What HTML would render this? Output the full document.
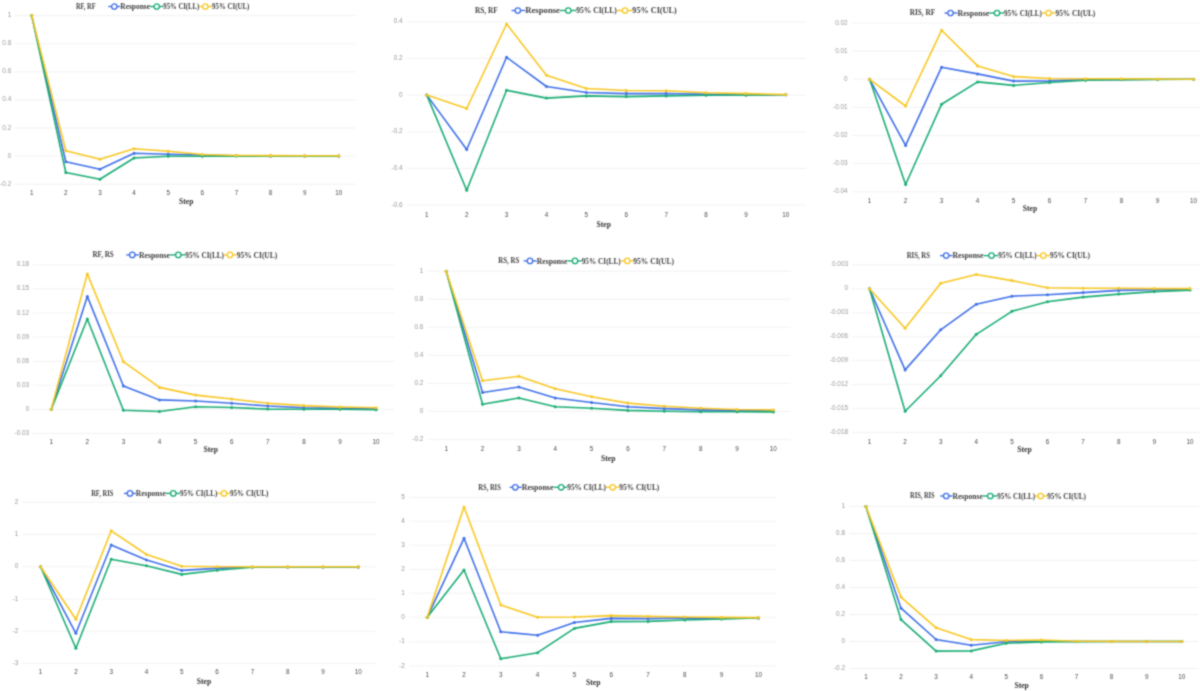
<!DOCTYPE html>
<html><head><meta charset="utf-8"><title>Impulse responses</title>
<style>
html,body{margin:0;padding:0;background:#fff;}
body{width:1200px;height:691px;overflow:hidden;}
svg{display:block;}
.tk{font-family:"Liberation Sans",sans-serif;font-size:6.4px;fill:#999999;}
.xt{font-family:"Liberation Sans",sans-serif;font-size:6.3px;fill:#4a4a4a;}
.st{font-family:"Liberation Serif",serif;font-weight:bold;font-size:7.6px;fill:#333;}
.tt{font-family:"Liberation Serif",serif;font-weight:bold;font-size:7.6px;fill:#404040;}
.lg{font-family:"Liberation Serif",serif;font-weight:bold;font-size:7.6px;fill:#404040;}
</style></head><body>
<svg width="1200" height="691" viewBox="0 0 1200 691">
<defs><filter id="bl" x="0" y="0" width="1200" height="691" filterUnits="userSpaceOnUse" color-interpolation-filters="sRGB"><feConvolveMatrix order="3" kernelMatrix="1 2 1 2 8 2 1 2 1" divisor="20" edgeMode="duplicate"/></filter></defs>
<rect width="1200" height="691" fill="#fff"/>
<g filter="url(#bl)">

<g>
<line x1="14.7" y1="15.6" x2="355.8" y2="15.6" stroke="#efefef" stroke-width="0.8"/>
<line x1="14.7" y1="43.7" x2="355.8" y2="43.7" stroke="#efefef" stroke-width="0.8"/>
<line x1="14.7" y1="71.8" x2="355.8" y2="71.8" stroke="#efefef" stroke-width="0.8"/>
<line x1="14.7" y1="99.9" x2="355.8" y2="99.9" stroke="#efefef" stroke-width="0.8"/>
<line x1="14.7" y1="128" x2="355.8" y2="128" stroke="#efefef" stroke-width="0.8"/>
<line x1="14.7" y1="156.1" x2="355.8" y2="156.1" stroke="#efefef" stroke-width="0.8"/>
<line x1="14.7" y1="184.2" x2="355.8" y2="184.2" stroke="#efefef" stroke-width="0.8"/>
<text class="tk" x="11.2" y="17.1" text-anchor="end">1</text>
<text class="tk" x="11.2" y="45.2" text-anchor="end">0.8</text>
<text class="tk" x="11.2" y="73.3" text-anchor="end">0.6</text>
<text class="tk" x="11.2" y="101.4" text-anchor="end">0.4</text>
<text class="tk" x="11.2" y="129.5" text-anchor="end">0.2</text>
<text class="tk" x="11.2" y="157.6" text-anchor="end">0</text>
<text class="tk" x="11.2" y="185.7" text-anchor="end">-0.2</text>
<text class="xt" x="31.7" y="194.7" text-anchor="middle">1</text>
<text class="xt" x="65.82" y="194.7" text-anchor="middle">2</text>
<text class="xt" x="99.94" y="194.7" text-anchor="middle">3</text>
<text class="xt" x="134.06" y="194.7" text-anchor="middle">4</text>
<text class="xt" x="168.18" y="194.7" text-anchor="middle">5</text>
<text class="xt" x="202.3" y="194.7" text-anchor="middle">6</text>
<text class="xt" x="236.42" y="194.7" text-anchor="middle">7</text>
<text class="xt" x="270.54" y="194.7" text-anchor="middle">8</text>
<text class="xt" x="304.66" y="194.7" text-anchor="middle">9</text>
<text class="xt" x="338.78" y="194.7" text-anchor="middle">10</text>
<text class="st" x="186.3" y="204.1" text-anchor="middle">Step</text>
<text class="tt" x="75.9" y="8.9" textLength="19.7" lengthAdjust="spacingAndGlyphs">RF, RF</text>
<line x1="108.3" y1="6.5" x2="120.3" y2="6.5" stroke="#4070e8" stroke-width="1.4"/>
<circle cx="114.3" cy="6.5" r="2.7" fill="#fff" stroke="#4070e8" stroke-width="1.3"/>
<text class="lg" x="120.3" y="9.2" textLength="29.7" lengthAdjust="spacingAndGlyphs">Response</text>
<line x1="150" y1="6.5" x2="163.3" y2="6.5" stroke="#1aad74" stroke-width="1.4"/>
<circle cx="156.7" cy="6.5" r="2.7" fill="#fff" stroke="#1aad74" stroke-width="1.3"/>
<text class="lg" x="163.3" y="9.2" textLength="36" lengthAdjust="spacingAndGlyphs">95% CI(LL)</text>
<line x1="199.3" y1="6.5" x2="212" y2="6.5" stroke="#f8c722" stroke-width="1.4"/>
<circle cx="205.3" cy="6.5" r="2.7" fill="#fff" stroke="#f8c722" stroke-width="1.3"/>
<text class="lg" x="212" y="9.2" textLength="37.3" lengthAdjust="spacingAndGlyphs">95% CI(UL)</text>
<polyline points="31.7,15.6 65.82,161.7 99.94,169.2 134.06,153.3 168.18,154.2 202.3,155 236.42,155.8 270.54,155.9 304.66,156 338.78,156" fill="none" stroke="#4070e8" stroke-width="1.6" stroke-linejoin="round"/>
<circle cx="31.7" cy="15.6" r="1.5" fill="#4070e8"/>
<circle cx="65.82" cy="161.7" r="1.5" fill="#4070e8"/>
<circle cx="99.94" cy="169.2" r="1.5" fill="#4070e8"/>
<circle cx="134.06" cy="153.3" r="1.5" fill="#4070e8"/>
<circle cx="168.18" cy="154.2" r="1.5" fill="#4070e8"/>
<circle cx="202.3" cy="155" r="1.5" fill="#4070e8"/>
<circle cx="236.42" cy="155.8" r="1.5" fill="#4070e8"/>
<circle cx="270.54" cy="155.9" r="1.5" fill="#4070e8"/>
<circle cx="304.66" cy="156" r="1.5" fill="#4070e8"/>
<circle cx="338.78" cy="156" r="1.5" fill="#4070e8"/>
<polyline points="31.7,15.6 65.82,172.5 99.94,179.2 134.06,158 168.18,156.3 202.3,156.2 236.42,156.1 270.54,156.1 304.66,156.1 338.78,156.1" fill="none" stroke="#1aad74" stroke-width="1.6" stroke-linejoin="round"/>
<circle cx="31.7" cy="15.6" r="1.5" fill="#1aad74"/>
<circle cx="65.82" cy="172.5" r="1.5" fill="#1aad74"/>
<circle cx="99.94" cy="179.2" r="1.5" fill="#1aad74"/>
<circle cx="134.06" cy="158" r="1.5" fill="#1aad74"/>
<circle cx="168.18" cy="156.3" r="1.5" fill="#1aad74"/>
<circle cx="202.3" cy="156.2" r="1.5" fill="#1aad74"/>
<circle cx="236.42" cy="156.1" r="1.5" fill="#1aad74"/>
<circle cx="270.54" cy="156.1" r="1.5" fill="#1aad74"/>
<circle cx="304.66" cy="156.1" r="1.5" fill="#1aad74"/>
<circle cx="338.78" cy="156.1" r="1.5" fill="#1aad74"/>
<polyline points="31.7,15.6 65.82,150.8 99.94,159.2 134.06,148.8 168.18,151.3 202.3,154.5 236.42,155.5 270.54,155.6 304.66,155.7 338.78,155.8" fill="none" stroke="#f8c722" stroke-width="1.6" stroke-linejoin="round"/>
<circle cx="31.7" cy="15.6" r="1.5" fill="#f8c722"/>
<circle cx="65.82" cy="150.8" r="1.5" fill="#f8c722"/>
<circle cx="99.94" cy="159.2" r="1.5" fill="#f8c722"/>
<circle cx="134.06" cy="148.8" r="1.5" fill="#f8c722"/>
<circle cx="168.18" cy="151.3" r="1.5" fill="#f8c722"/>
<circle cx="202.3" cy="154.5" r="1.5" fill="#f8c722"/>
<circle cx="236.42" cy="155.5" r="1.5" fill="#f8c722"/>
<circle cx="270.54" cy="155.6" r="1.5" fill="#f8c722"/>
<circle cx="304.66" cy="155.7" r="1.5" fill="#f8c722"/>
<circle cx="338.78" cy="155.8" r="1.5" fill="#f8c722"/>
</g>
<g>
<line x1="406.9" y1="21.7" x2="806.3" y2="21.7" stroke="#efefef" stroke-width="0.8"/>
<line x1="406.9" y1="58.4" x2="806.3" y2="58.4" stroke="#efefef" stroke-width="0.8"/>
<line x1="406.9" y1="95.1" x2="806.3" y2="95.1" stroke="#efefef" stroke-width="0.8"/>
<line x1="406.9" y1="131.8" x2="806.3" y2="131.8" stroke="#efefef" stroke-width="0.8"/>
<line x1="406.9" y1="168.5" x2="806.3" y2="168.5" stroke="#efefef" stroke-width="0.8"/>
<line x1="406.9" y1="205.1" x2="806.3" y2="205.1" stroke="#efefef" stroke-width="0.8"/>
<text class="tk" x="402.6" y="23.2" text-anchor="end">0.4</text>
<text class="tk" x="402.6" y="59.9" text-anchor="end">0.2</text>
<text class="tk" x="402.6" y="96.6" text-anchor="end">0</text>
<text class="tk" x="402.6" y="133.3" text-anchor="end">-0.2</text>
<text class="tk" x="402.6" y="170" text-anchor="end">-0.4</text>
<text class="tk" x="402.6" y="206.6" text-anchor="end">-0.6</text>
<text class="xt" x="426.8" y="216.7" text-anchor="middle">1</text>
<text class="xt" x="466.69" y="216.7" text-anchor="middle">2</text>
<text class="xt" x="506.58" y="216.7" text-anchor="middle">3</text>
<text class="xt" x="546.47" y="216.7" text-anchor="middle">4</text>
<text class="xt" x="586.36" y="216.7" text-anchor="middle">5</text>
<text class="xt" x="626.25" y="216.7" text-anchor="middle">6</text>
<text class="xt" x="666.14" y="216.7" text-anchor="middle">7</text>
<text class="xt" x="706.03" y="216.7" text-anchor="middle">8</text>
<text class="xt" x="745.92" y="216.7" text-anchor="middle">9</text>
<text class="xt" x="785.81" y="216.7" text-anchor="middle">10</text>
<text class="st" x="603.8" y="226.8" text-anchor="middle">Step</text>
<text class="tt" x="475.1" y="12.9" textLength="22.6" lengthAdjust="spacingAndGlyphs">RS, RF</text>
<line x1="511.5" y1="10.5" x2="525.2" y2="10.5" stroke="#4070e8" stroke-width="1.4"/>
<circle cx="517.8" cy="10.5" r="2.7" fill="#fff" stroke="#4070e8" stroke-width="1.3"/>
<text class="lg" x="525.2" y="13.2" textLength="34.8" lengthAdjust="spacingAndGlyphs">Response</text>
<line x1="560" y1="10.5" x2="576.3" y2="10.5" stroke="#1aad74" stroke-width="1.4"/>
<circle cx="568.3" cy="10.5" r="2.7" fill="#fff" stroke="#1aad74" stroke-width="1.3"/>
<text class="lg" x="576.3" y="13.2" textLength="40.4" lengthAdjust="spacingAndGlyphs">95% CI(LL)</text>
<line x1="616.7" y1="10.5" x2="632.3" y2="10.5" stroke="#f8c722" stroke-width="1.4"/>
<circle cx="625" cy="10.5" r="2.7" fill="#fff" stroke="#f8c722" stroke-width="1.3"/>
<text class="lg" x="632.3" y="13.2" textLength="44.4" lengthAdjust="spacingAndGlyphs">95% CI(UL)</text>
<polyline points="426.8,95.1 466.69,149.5 506.58,57.3 546.47,86.5 586.36,92.5 626.25,93.6 666.14,93.5 706.03,94.4 745.92,95 785.81,94.8" fill="none" stroke="#4070e8" stroke-width="1.6" stroke-linejoin="round"/>
<circle cx="426.8" cy="95.1" r="1.5" fill="#4070e8"/>
<circle cx="466.69" cy="149.5" r="1.5" fill="#4070e8"/>
<circle cx="506.58" cy="57.3" r="1.5" fill="#4070e8"/>
<circle cx="546.47" cy="86.5" r="1.5" fill="#4070e8"/>
<circle cx="586.36" cy="92.5" r="1.5" fill="#4070e8"/>
<circle cx="626.25" cy="93.6" r="1.5" fill="#4070e8"/>
<circle cx="666.14" cy="93.5" r="1.5" fill="#4070e8"/>
<circle cx="706.03" cy="94.4" r="1.5" fill="#4070e8"/>
<circle cx="745.92" cy="95" r="1.5" fill="#4070e8"/>
<circle cx="785.81" cy="94.8" r="1.5" fill="#4070e8"/>
<polyline points="426.8,95.1 466.69,190.3 506.58,90.3 546.47,98.1 586.36,95.9 626.25,96.6 666.14,95.9 706.03,95.2 745.92,95 785.81,94.8" fill="none" stroke="#1aad74" stroke-width="1.6" stroke-linejoin="round"/>
<circle cx="426.8" cy="95.1" r="1.5" fill="#1aad74"/>
<circle cx="466.69" cy="190.3" r="1.5" fill="#1aad74"/>
<circle cx="506.58" cy="90.3" r="1.5" fill="#1aad74"/>
<circle cx="546.47" cy="98.1" r="1.5" fill="#1aad74"/>
<circle cx="586.36" cy="95.9" r="1.5" fill="#1aad74"/>
<circle cx="626.25" cy="96.6" r="1.5" fill="#1aad74"/>
<circle cx="666.14" cy="95.9" r="1.5" fill="#1aad74"/>
<circle cx="706.03" cy="95.2" r="1.5" fill="#1aad74"/>
<circle cx="745.92" cy="95" r="1.5" fill="#1aad74"/>
<circle cx="785.81" cy="94.8" r="1.5" fill="#1aad74"/>
<polyline points="426.8,95.1 466.69,108.5 506.58,24 546.47,75.2 586.36,88.5 626.25,90.5 666.14,90.8 706.03,92.8 745.92,93.6 785.81,94.6" fill="none" stroke="#f8c722" stroke-width="1.6" stroke-linejoin="round"/>
<circle cx="426.8" cy="95.1" r="1.5" fill="#f8c722"/>
<circle cx="466.69" cy="108.5" r="1.5" fill="#f8c722"/>
<circle cx="506.58" cy="24" r="1.5" fill="#f8c722"/>
<circle cx="546.47" cy="75.2" r="1.5" fill="#f8c722"/>
<circle cx="586.36" cy="88.5" r="1.5" fill="#f8c722"/>
<circle cx="626.25" cy="90.5" r="1.5" fill="#f8c722"/>
<circle cx="666.14" cy="90.8" r="1.5" fill="#f8c722"/>
<circle cx="706.03" cy="92.8" r="1.5" fill="#f8c722"/>
<circle cx="745.92" cy="93.6" r="1.5" fill="#f8c722"/>
<circle cx="785.81" cy="94.6" r="1.5" fill="#f8c722"/>
</g>
<g>
<line x1="852.5" y1="23" x2="1200" y2="23" stroke="#efefef" stroke-width="0.8"/>
<line x1="852.5" y1="51.1" x2="1200" y2="51.1" stroke="#efefef" stroke-width="0.8"/>
<line x1="852.5" y1="79.3" x2="1200" y2="79.3" stroke="#efefef" stroke-width="0.8"/>
<line x1="852.5" y1="107.4" x2="1200" y2="107.4" stroke="#efefef" stroke-width="0.8"/>
<line x1="852.5" y1="135.5" x2="1200" y2="135.5" stroke="#efefef" stroke-width="0.8"/>
<line x1="852.5" y1="163.6" x2="1200" y2="163.6" stroke="#efefef" stroke-width="0.8"/>
<line x1="852.5" y1="191.7" x2="1200" y2="191.7" stroke="#efefef" stroke-width="0.8"/>
<text class="tk" x="847.6" y="24.5" text-anchor="end">0.02</text>
<text class="tk" x="847.6" y="52.6" text-anchor="end">0.01</text>
<text class="tk" x="847.6" y="80.8" text-anchor="end">0</text>
<text class="tk" x="847.6" y="108.9" text-anchor="end">-0.01</text>
<text class="tk" x="847.6" y="137" text-anchor="end">-0.02</text>
<text class="tk" x="847.6" y="165.1" text-anchor="end">-0.03</text>
<text class="tk" x="847.6" y="193.2" text-anchor="end">-0.04</text>
<text class="xt" x="869.6" y="202.7" text-anchor="middle">1</text>
<text class="xt" x="905.6" y="202.7" text-anchor="middle">2</text>
<text class="xt" x="941.6" y="202.7" text-anchor="middle">3</text>
<text class="xt" x="977.6" y="202.7" text-anchor="middle">4</text>
<text class="xt" x="1013.6" y="202.7" text-anchor="middle">5</text>
<text class="xt" x="1049.6" y="202.7" text-anchor="middle">6</text>
<text class="xt" x="1085.6" y="202.7" text-anchor="middle">7</text>
<text class="xt" x="1121.6" y="202.7" text-anchor="middle">8</text>
<text class="xt" x="1157.6" y="202.7" text-anchor="middle">9</text>
<text class="xt" x="1193.6" y="202.7" text-anchor="middle">10</text>
<text class="st" x="1030" y="211.1" text-anchor="middle">Step</text>
<text class="tt" x="909.7" y="15.4" textLength="25.5" lengthAdjust="spacingAndGlyphs">RIS, RF</text>
<line x1="944.5" y1="13" x2="957.5" y2="13" stroke="#4070e8" stroke-width="1.4"/>
<circle cx="950.5" cy="13" r="2.7" fill="#fff" stroke="#4070e8" stroke-width="1.3"/>
<text class="lg" x="957.5" y="15.7" textLength="31.8" lengthAdjust="spacingAndGlyphs">Response</text>
<line x1="989.3" y1="13" x2="1004" y2="13" stroke="#1aad74" stroke-width="1.4"/>
<circle cx="997" cy="13" r="2.7" fill="#fff" stroke="#1aad74" stroke-width="1.3"/>
<text class="lg" x="1004" y="15.7" textLength="37.8" lengthAdjust="spacingAndGlyphs">95% CI(LL)</text>
<line x1="1041.8" y1="13" x2="1055.5" y2="13" stroke="#f8c722" stroke-width="1.4"/>
<circle cx="1048.5" cy="13" r="2.7" fill="#fff" stroke="#f8c722" stroke-width="1.3"/>
<text class="lg" x="1055.5" y="15.7" textLength="39.8" lengthAdjust="spacingAndGlyphs">95% CI(UL)</text>
<polyline points="869.6,79.3 905.6,145.4 941.6,67.2 977.6,73.9 1013.6,81.1 1049.6,80.9 1085.6,79.8 1121.6,79.6 1157.6,79.3 1193.6,79.3" fill="none" stroke="#4070e8" stroke-width="1.6" stroke-linejoin="round"/>
<circle cx="869.6" cy="79.3" r="1.5" fill="#4070e8"/>
<circle cx="905.6" cy="145.4" r="1.5" fill="#4070e8"/>
<circle cx="941.6" cy="67.2" r="1.5" fill="#4070e8"/>
<circle cx="977.6" cy="73.9" r="1.5" fill="#4070e8"/>
<circle cx="1013.6" cy="81.1" r="1.5" fill="#4070e8"/>
<circle cx="1049.6" cy="80.9" r="1.5" fill="#4070e8"/>
<circle cx="1085.6" cy="79.8" r="1.5" fill="#4070e8"/>
<circle cx="1121.6" cy="79.6" r="1.5" fill="#4070e8"/>
<circle cx="1157.6" cy="79.3" r="1.5" fill="#4070e8"/>
<circle cx="1193.6" cy="79.3" r="1.5" fill="#4070e8"/>
<polyline points="869.6,79.3 905.6,184.5 941.6,104.2 977.6,81.9 1013.6,85.4 1049.6,82.5 1085.6,80.2 1121.6,79.6 1157.6,79.4 1193.6,79.3" fill="none" stroke="#1aad74" stroke-width="1.6" stroke-linejoin="round"/>
<circle cx="869.6" cy="79.3" r="1.5" fill="#1aad74"/>
<circle cx="905.6" cy="184.5" r="1.5" fill="#1aad74"/>
<circle cx="941.6" cy="104.2" r="1.5" fill="#1aad74"/>
<circle cx="977.6" cy="81.9" r="1.5" fill="#1aad74"/>
<circle cx="1013.6" cy="85.4" r="1.5" fill="#1aad74"/>
<circle cx="1049.6" cy="82.5" r="1.5" fill="#1aad74"/>
<circle cx="1085.6" cy="80.2" r="1.5" fill="#1aad74"/>
<circle cx="1121.6" cy="79.6" r="1.5" fill="#1aad74"/>
<circle cx="1157.6" cy="79.4" r="1.5" fill="#1aad74"/>
<circle cx="1193.6" cy="79.3" r="1.5" fill="#1aad74"/>
<polyline points="869.6,79.3 905.6,106 941.6,30.3 977.6,65.9 1013.6,76.6 1049.6,78.5 1085.6,78.8 1121.6,78.8 1157.6,79 1193.6,79.3" fill="none" stroke="#f8c722" stroke-width="1.6" stroke-linejoin="round"/>
<circle cx="869.6" cy="79.3" r="1.5" fill="#f8c722"/>
<circle cx="905.6" cy="106" r="1.5" fill="#f8c722"/>
<circle cx="941.6" cy="30.3" r="1.5" fill="#f8c722"/>
<circle cx="977.6" cy="65.9" r="1.5" fill="#f8c722"/>
<circle cx="1013.6" cy="76.6" r="1.5" fill="#f8c722"/>
<circle cx="1049.6" cy="78.5" r="1.5" fill="#f8c722"/>
<circle cx="1085.6" cy="78.8" r="1.5" fill="#f8c722"/>
<circle cx="1121.6" cy="78.8" r="1.5" fill="#f8c722"/>
<circle cx="1157.6" cy="79" r="1.5" fill="#f8c722"/>
<circle cx="1193.6" cy="79.3" r="1.5" fill="#f8c722"/>
</g>
<g>
<line x1="33" y1="264.8" x2="394.1" y2="264.8" stroke="#efefef" stroke-width="0.8"/>
<line x1="33" y1="288.9" x2="394.1" y2="288.9" stroke="#efefef" stroke-width="0.8"/>
<line x1="33" y1="313" x2="394.1" y2="313" stroke="#efefef" stroke-width="0.8"/>
<line x1="33" y1="337" x2="394.1" y2="337" stroke="#efefef" stroke-width="0.8"/>
<line x1="33" y1="361.2" x2="394.1" y2="361.2" stroke="#efefef" stroke-width="0.8"/>
<line x1="33" y1="385.3" x2="394.1" y2="385.3" stroke="#efefef" stroke-width="0.8"/>
<line x1="33" y1="409.4" x2="394.1" y2="409.4" stroke="#efefef" stroke-width="0.8"/>
<line x1="33" y1="433.4" x2="394.1" y2="433.4" stroke="#efefef" stroke-width="0.8"/>
<text class="tk" x="29.2" y="266.3" text-anchor="end">0.18</text>
<text class="tk" x="29.2" y="290.4" text-anchor="end">0.15</text>
<text class="tk" x="29.2" y="314.5" text-anchor="end">0.12</text>
<text class="tk" x="29.2" y="338.5" text-anchor="end">0.09</text>
<text class="tk" x="29.2" y="362.7" text-anchor="end">0.06</text>
<text class="tk" x="29.2" y="386.8" text-anchor="end">0.03</text>
<text class="tk" x="29.2" y="410.9" text-anchor="end">0</text>
<text class="tk" x="29.2" y="434.9" text-anchor="end">-0.03</text>
<text class="xt" x="51.2" y="444.2" text-anchor="middle">1</text>
<text class="xt" x="87.3" y="444.2" text-anchor="middle">2</text>
<text class="xt" x="123.4" y="444.2" text-anchor="middle">3</text>
<text class="xt" x="159.5" y="444.2" text-anchor="middle">4</text>
<text class="xt" x="195.6" y="444.2" text-anchor="middle">5</text>
<text class="xt" x="231.7" y="444.2" text-anchor="middle">6</text>
<text class="xt" x="267.8" y="444.2" text-anchor="middle">7</text>
<text class="xt" x="303.9" y="444.2" text-anchor="middle">8</text>
<text class="xt" x="340" y="444.2" text-anchor="middle">9</text>
<text class="xt" x="376.1" y="444.2" text-anchor="middle">10</text>
<text class="st" x="210.8" y="452.1" text-anchor="middle">Step</text>
<text class="tt" x="92.5" y="257.3" textLength="21.2" lengthAdjust="spacingAndGlyphs">RF, RS</text>
<line x1="126.3" y1="254.9" x2="138.9" y2="254.9" stroke="#4070e8" stroke-width="1.4"/>
<circle cx="132.3" cy="254.9" r="2.7" fill="#fff" stroke="#4070e8" stroke-width="1.3"/>
<text class="lg" x="138.9" y="257.6" textLength="31.2" lengthAdjust="spacingAndGlyphs">Response</text>
<line x1="170.1" y1="254.9" x2="185.3" y2="254.9" stroke="#1aad74" stroke-width="1.4"/>
<circle cx="178.3" cy="254.9" r="2.7" fill="#fff" stroke="#1aad74" stroke-width="1.3"/>
<text class="lg" x="185.3" y="257.6" textLength="38.7" lengthAdjust="spacingAndGlyphs">95% CI(LL)</text>
<line x1="224" y1="254.9" x2="236.7" y2="254.9" stroke="#f8c722" stroke-width="1.4"/>
<circle cx="230" cy="254.9" r="2.7" fill="#fff" stroke="#f8c722" stroke-width="1.3"/>
<text class="lg" x="236.7" y="257.6" textLength="40.6" lengthAdjust="spacingAndGlyphs">95% CI(UL)</text>
<polyline points="51.2,409.4 87.3,296.4 123.4,386 159.5,399.9 195.6,401 231.7,403.3 267.8,406 303.9,407.8 340,408.4 376.1,409" fill="none" stroke="#4070e8" stroke-width="1.6" stroke-linejoin="round"/>
<circle cx="51.2" cy="409.4" r="1.5" fill="#4070e8"/>
<circle cx="87.3" cy="296.4" r="1.5" fill="#4070e8"/>
<circle cx="123.4" cy="386" r="1.5" fill="#4070e8"/>
<circle cx="159.5" cy="399.9" r="1.5" fill="#4070e8"/>
<circle cx="195.6" cy="401" r="1.5" fill="#4070e8"/>
<circle cx="231.7" cy="403.3" r="1.5" fill="#4070e8"/>
<circle cx="267.8" cy="406" r="1.5" fill="#4070e8"/>
<circle cx="303.9" cy="407.8" r="1.5" fill="#4070e8"/>
<circle cx="340" cy="408.4" r="1.5" fill="#4070e8"/>
<circle cx="376.1" cy="409" r="1.5" fill="#4070e8"/>
<polyline points="51.2,409.4 87.3,319 123.4,410.3 159.5,411.5 195.6,406.8 231.7,407.5 267.8,409.1 303.9,409.3 340,409.3 376.1,409.7" fill="none" stroke="#1aad74" stroke-width="1.6" stroke-linejoin="round"/>
<circle cx="51.2" cy="409.4" r="1.5" fill="#1aad74"/>
<circle cx="87.3" cy="319" r="1.5" fill="#1aad74"/>
<circle cx="123.4" cy="410.3" r="1.5" fill="#1aad74"/>
<circle cx="159.5" cy="411.5" r="1.5" fill="#1aad74"/>
<circle cx="195.6" cy="406.8" r="1.5" fill="#1aad74"/>
<circle cx="231.7" cy="407.5" r="1.5" fill="#1aad74"/>
<circle cx="267.8" cy="409.1" r="1.5" fill="#1aad74"/>
<circle cx="303.9" cy="409.3" r="1.5" fill="#1aad74"/>
<circle cx="340" cy="409.3" r="1.5" fill="#1aad74"/>
<circle cx="376.1" cy="409.7" r="1.5" fill="#1aad74"/>
<polyline points="51.2,409.4 87.3,273.9 123.4,361.7 159.5,387.4 195.6,395.1 231.7,399 267.8,403.3 303.9,405.6 340,407 376.1,407.8" fill="none" stroke="#f8c722" stroke-width="1.6" stroke-linejoin="round"/>
<circle cx="51.2" cy="409.4" r="1.5" fill="#f8c722"/>
<circle cx="87.3" cy="273.9" r="1.5" fill="#f8c722"/>
<circle cx="123.4" cy="361.7" r="1.5" fill="#f8c722"/>
<circle cx="159.5" cy="387.4" r="1.5" fill="#f8c722"/>
<circle cx="195.6" cy="395.1" r="1.5" fill="#f8c722"/>
<circle cx="231.7" cy="399" r="1.5" fill="#f8c722"/>
<circle cx="267.8" cy="403.3" r="1.5" fill="#f8c722"/>
<circle cx="303.9" cy="405.6" r="1.5" fill="#f8c722"/>
<circle cx="340" cy="407" r="1.5" fill="#f8c722"/>
<circle cx="376.1" cy="407.8" r="1.5" fill="#f8c722"/>
</g>
<g>
<line x1="427.8" y1="271.2" x2="790.7" y2="271.2" stroke="#efefef" stroke-width="0.8"/>
<line x1="427.8" y1="299.2" x2="790.7" y2="299.2" stroke="#efefef" stroke-width="0.8"/>
<line x1="427.8" y1="327.3" x2="790.7" y2="327.3" stroke="#efefef" stroke-width="0.8"/>
<line x1="427.8" y1="355.4" x2="790.7" y2="355.4" stroke="#efefef" stroke-width="0.8"/>
<line x1="427.8" y1="383.4" x2="790.7" y2="383.4" stroke="#efefef" stroke-width="0.8"/>
<line x1="427.8" y1="411.4" x2="790.7" y2="411.4" stroke="#efefef" stroke-width="0.8"/>
<line x1="427.8" y1="439.6" x2="790.7" y2="439.6" stroke="#efefef" stroke-width="0.8"/>
<text class="tk" x="423.3" y="272.7" text-anchor="end">1</text>
<text class="tk" x="423.3" y="300.7" text-anchor="end">0.8</text>
<text class="tk" x="423.3" y="328.8" text-anchor="end">0.6</text>
<text class="tk" x="423.3" y="356.9" text-anchor="end">0.4</text>
<text class="tk" x="423.3" y="384.9" text-anchor="end">0.2</text>
<text class="tk" x="423.3" y="412.9" text-anchor="end">0</text>
<text class="tk" x="423.3" y="441.1" text-anchor="end">-0.2</text>
<text class="xt" x="446.2" y="450.9" text-anchor="middle">1</text>
<text class="xt" x="482.55" y="450.9" text-anchor="middle">2</text>
<text class="xt" x="518.9" y="450.9" text-anchor="middle">3</text>
<text class="xt" x="555.25" y="450.9" text-anchor="middle">4</text>
<text class="xt" x="591.6" y="450.9" text-anchor="middle">5</text>
<text class="xt" x="627.95" y="450.9" text-anchor="middle">6</text>
<text class="xt" x="664.3" y="450.9" text-anchor="middle">7</text>
<text class="xt" x="700.65" y="450.9" text-anchor="middle">8</text>
<text class="xt" x="737" y="450.9" text-anchor="middle">9</text>
<text class="xt" x="773.35" y="450.9" text-anchor="middle">10</text>
<text class="st" x="608.3" y="460.6" text-anchor="middle">Step</text>
<text class="tt" x="498.3" y="263.3" textLength="20.9" lengthAdjust="spacingAndGlyphs">RS, RS</text>
<line x1="523.7" y1="260.9" x2="536.7" y2="260.9" stroke="#4070e8" stroke-width="1.4"/>
<circle cx="530" cy="260.9" r="2.7" fill="#fff" stroke="#4070e8" stroke-width="1.3"/>
<text class="lg" x="536.7" y="263.6" textLength="30.8" lengthAdjust="spacingAndGlyphs">Response</text>
<line x1="567.5" y1="260.9" x2="581.7" y2="260.9" stroke="#1aad74" stroke-width="1.4"/>
<circle cx="575" cy="260.9" r="2.7" fill="#fff" stroke="#1aad74" stroke-width="1.3"/>
<text class="lg" x="581.7" y="263.6" textLength="39" lengthAdjust="spacingAndGlyphs">95% CI(LL)</text>
<line x1="620.7" y1="260.9" x2="633.3" y2="260.9" stroke="#f8c722" stroke-width="1.4"/>
<circle cx="627.3" cy="260.9" r="2.7" fill="#fff" stroke="#f8c722" stroke-width="1.3"/>
<text class="lg" x="633.3" y="263.6" textLength="40.7" lengthAdjust="spacingAndGlyphs">95% CI(UL)</text>
<polyline points="446.2,271.2 482.55,392.5 518.9,387 555.25,398 591.6,402.5 627.95,406.8 664.3,408.6 700.65,409.9 737,410.5 773.35,411" fill="none" stroke="#4070e8" stroke-width="1.6" stroke-linejoin="round"/>
<circle cx="446.2" cy="271.2" r="1.5" fill="#4070e8"/>
<circle cx="482.55" cy="392.5" r="1.5" fill="#4070e8"/>
<circle cx="518.9" cy="387" r="1.5" fill="#4070e8"/>
<circle cx="555.25" cy="398" r="1.5" fill="#4070e8"/>
<circle cx="591.6" cy="402.5" r="1.5" fill="#4070e8"/>
<circle cx="627.95" cy="406.8" r="1.5" fill="#4070e8"/>
<circle cx="664.3" cy="408.6" r="1.5" fill="#4070e8"/>
<circle cx="700.65" cy="409.9" r="1.5" fill="#4070e8"/>
<circle cx="737" cy="410.5" r="1.5" fill="#4070e8"/>
<circle cx="773.35" cy="411" r="1.5" fill="#4070e8"/>
<polyline points="446.2,271.2 482.55,404.2 518.9,398 555.25,406.7 591.6,408.3 627.95,410.4 664.3,411.3 700.65,411.7 737,411.7 773.35,411.9" fill="none" stroke="#1aad74" stroke-width="1.6" stroke-linejoin="round"/>
<circle cx="446.2" cy="271.2" r="1.5" fill="#1aad74"/>
<circle cx="482.55" cy="404.2" r="1.5" fill="#1aad74"/>
<circle cx="518.9" cy="398" r="1.5" fill="#1aad74"/>
<circle cx="555.25" cy="406.7" r="1.5" fill="#1aad74"/>
<circle cx="591.6" cy="408.3" r="1.5" fill="#1aad74"/>
<circle cx="627.95" cy="410.4" r="1.5" fill="#1aad74"/>
<circle cx="664.3" cy="411.3" r="1.5" fill="#1aad74"/>
<circle cx="700.65" cy="411.7" r="1.5" fill="#1aad74"/>
<circle cx="737" cy="411.7" r="1.5" fill="#1aad74"/>
<circle cx="773.35" cy="411.9" r="1.5" fill="#1aad74"/>
<polyline points="446.2,271.2 482.55,380.8 518.9,376.2 555.25,388.8 591.6,396.7 627.95,403.1 664.3,406.2 700.65,408.2 737,409.5 773.35,409.9" fill="none" stroke="#f8c722" stroke-width="1.6" stroke-linejoin="round"/>
<circle cx="446.2" cy="271.2" r="1.5" fill="#f8c722"/>
<circle cx="482.55" cy="380.8" r="1.5" fill="#f8c722"/>
<circle cx="518.9" cy="376.2" r="1.5" fill="#f8c722"/>
<circle cx="555.25" cy="388.8" r="1.5" fill="#f8c722"/>
<circle cx="591.6" cy="396.7" r="1.5" fill="#f8c722"/>
<circle cx="627.95" cy="403.1" r="1.5" fill="#f8c722"/>
<circle cx="664.3" cy="406.2" r="1.5" fill="#f8c722"/>
<circle cx="700.65" cy="408.2" r="1.5" fill="#f8c722"/>
<circle cx="737" cy="409.5" r="1.5" fill="#f8c722"/>
<circle cx="773.35" cy="409.9" r="1.5" fill="#f8c722"/>
</g>
<g>
<line x1="851.7" y1="264.9" x2="1200" y2="264.9" stroke="#efefef" stroke-width="0.8"/>
<line x1="851.7" y1="288.8" x2="1200" y2="288.8" stroke="#efefef" stroke-width="0.8"/>
<line x1="851.7" y1="312.8" x2="1200" y2="312.8" stroke="#efefef" stroke-width="0.8"/>
<line x1="851.7" y1="336.7" x2="1200" y2="336.7" stroke="#efefef" stroke-width="0.8"/>
<line x1="851.7" y1="360.6" x2="1200" y2="360.6" stroke="#efefef" stroke-width="0.8"/>
<line x1="851.7" y1="384.6" x2="1200" y2="384.6" stroke="#efefef" stroke-width="0.8"/>
<line x1="851.7" y1="408.6" x2="1200" y2="408.6" stroke="#efefef" stroke-width="0.8"/>
<line x1="851.7" y1="432.5" x2="1200" y2="432.5" stroke="#efefef" stroke-width="0.8"/>
<text class="tk" x="848" y="266.4" text-anchor="end">0.003</text>
<text class="tk" x="848" y="290.3" text-anchor="end">0</text>
<text class="tk" x="848" y="314.3" text-anchor="end">-0.003</text>
<text class="tk" x="848" y="338.2" text-anchor="end">-0.006</text>
<text class="tk" x="848" y="362.1" text-anchor="end">-0.009</text>
<text class="tk" x="848" y="386.1" text-anchor="end">-0.012</text>
<text class="tk" x="848" y="410.1" text-anchor="end">-0.015</text>
<text class="tk" x="848" y="434" text-anchor="end">-0.018</text>
<text class="xt" x="869.5" y="443.9" text-anchor="middle">1</text>
<text class="xt" x="905.1" y="443.9" text-anchor="middle">2</text>
<text class="xt" x="940.7" y="443.9" text-anchor="middle">3</text>
<text class="xt" x="976.3" y="443.9" text-anchor="middle">4</text>
<text class="xt" x="1011.9" y="443.9" text-anchor="middle">5</text>
<text class="xt" x="1047.5" y="443.9" text-anchor="middle">6</text>
<text class="xt" x="1083.1" y="443.9" text-anchor="middle">7</text>
<text class="xt" x="1118.7" y="443.9" text-anchor="middle">8</text>
<text class="xt" x="1154.3" y="443.9" text-anchor="middle">9</text>
<text class="xt" x="1189.9" y="443.9" text-anchor="middle">10</text>
<text class="st" x="1024.5" y="452.4" text-anchor="middle">Step</text>
<text class="tt" x="906.7" y="258" textLength="23.3" lengthAdjust="spacingAndGlyphs">RIS, RS</text>
<line x1="940" y1="255.6" x2="952.5" y2="255.6" stroke="#4070e8" stroke-width="1.4"/>
<circle cx="946.2" cy="255.6" r="2.7" fill="#fff" stroke="#4070e8" stroke-width="1.3"/>
<text class="lg" x="952.5" y="258.3" textLength="31" lengthAdjust="spacingAndGlyphs">Response</text>
<line x1="983.5" y1="255.6" x2="998.3" y2="255.6" stroke="#1aad74" stroke-width="1.4"/>
<circle cx="991.5" cy="255.6" r="2.7" fill="#fff" stroke="#1aad74" stroke-width="1.3"/>
<text class="lg" x="998.3" y="258.3" textLength="38.4" lengthAdjust="spacingAndGlyphs">95% CI(LL)</text>
<line x1="1036.7" y1="255.6" x2="1050" y2="255.6" stroke="#f8c722" stroke-width="1.4"/>
<circle cx="1043.3" cy="255.6" r="2.7" fill="#fff" stroke="#f8c722" stroke-width="1.3"/>
<text class="lg" x="1050" y="258.3" textLength="40" lengthAdjust="spacingAndGlyphs">95% CI(UL)</text>
<polyline points="869.5,288.8 905.1,369.9 940.7,329.8 976.3,304.2 1011.9,296.2 1047.5,294.7 1083.1,292.6 1118.7,290.4 1154.3,289.8 1189.9,289.5" fill="none" stroke="#4070e8" stroke-width="1.6" stroke-linejoin="round"/>
<circle cx="869.5" cy="288.8" r="1.5" fill="#4070e8"/>
<circle cx="905.1" cy="369.9" r="1.5" fill="#4070e8"/>
<circle cx="940.7" cy="329.8" r="1.5" fill="#4070e8"/>
<circle cx="976.3" cy="304.2" r="1.5" fill="#4070e8"/>
<circle cx="1011.9" cy="296.2" r="1.5" fill="#4070e8"/>
<circle cx="1047.5" cy="294.7" r="1.5" fill="#4070e8"/>
<circle cx="1083.1" cy="292.6" r="1.5" fill="#4070e8"/>
<circle cx="1118.7" cy="290.4" r="1.5" fill="#4070e8"/>
<circle cx="1154.3" cy="289.8" r="1.5" fill="#4070e8"/>
<circle cx="1189.9" cy="289.5" r="1.5" fill="#4070e8"/>
<polyline points="869.5,288.8 905.1,411.2 940.7,375.7 976.3,334.3 1011.9,311.3 1047.5,301.7 1083.1,297.1 1118.7,294.1 1154.3,291.6 1189.9,290.1" fill="none" stroke="#1aad74" stroke-width="1.6" stroke-linejoin="round"/>
<circle cx="869.5" cy="288.8" r="1.5" fill="#1aad74"/>
<circle cx="905.1" cy="411.2" r="1.5" fill="#1aad74"/>
<circle cx="940.7" cy="375.7" r="1.5" fill="#1aad74"/>
<circle cx="976.3" cy="334.3" r="1.5" fill="#1aad74"/>
<circle cx="1011.9" cy="311.3" r="1.5" fill="#1aad74"/>
<circle cx="1047.5" cy="301.7" r="1.5" fill="#1aad74"/>
<circle cx="1083.1" cy="297.1" r="1.5" fill="#1aad74"/>
<circle cx="1118.7" cy="294.1" r="1.5" fill="#1aad74"/>
<circle cx="1154.3" cy="291.6" r="1.5" fill="#1aad74"/>
<circle cx="1189.9" cy="290.1" r="1.5" fill="#1aad74"/>
<polyline points="869.5,288.8 905.1,328.3 940.7,283.3 976.3,274.5 1011.9,280.6 1047.5,287.7 1083.1,288.3 1118.7,288.3 1154.3,288.6 1189.9,288.6" fill="none" stroke="#f8c722" stroke-width="1.6" stroke-linejoin="round"/>
<circle cx="869.5" cy="288.8" r="1.5" fill="#f8c722"/>
<circle cx="905.1" cy="328.3" r="1.5" fill="#f8c722"/>
<circle cx="940.7" cy="283.3" r="1.5" fill="#f8c722"/>
<circle cx="976.3" cy="274.5" r="1.5" fill="#f8c722"/>
<circle cx="1011.9" cy="280.6" r="1.5" fill="#f8c722"/>
<circle cx="1047.5" cy="287.7" r="1.5" fill="#f8c722"/>
<circle cx="1083.1" cy="288.3" r="1.5" fill="#f8c722"/>
<circle cx="1118.7" cy="288.3" r="1.5" fill="#f8c722"/>
<circle cx="1154.3" cy="288.6" r="1.5" fill="#f8c722"/>
<circle cx="1189.9" cy="288.6" r="1.5" fill="#f8c722"/>
</g>
<g>
<line x1="22.5" y1="502.2" x2="375.3" y2="502.2" stroke="#efefef" stroke-width="0.8"/>
<line x1="22.5" y1="534.4" x2="375.3" y2="534.4" stroke="#efefef" stroke-width="0.8"/>
<line x1="22.5" y1="566.7" x2="375.3" y2="566.7" stroke="#efefef" stroke-width="0.8"/>
<line x1="22.5" y1="599" x2="375.3" y2="599" stroke="#efefef" stroke-width="0.8"/>
<line x1="22.5" y1="631.3" x2="375.3" y2="631.3" stroke="#efefef" stroke-width="0.8"/>
<line x1="22.5" y1="663.4" x2="375.3" y2="663.4" stroke="#efefef" stroke-width="0.8"/>
<text class="tk" x="18.3" y="503.7" text-anchor="end">2</text>
<text class="tk" x="18.3" y="535.9" text-anchor="end">1</text>
<text class="tk" x="18.3" y="568.2" text-anchor="end">0</text>
<text class="tk" x="18.3" y="600.5" text-anchor="end">-1</text>
<text class="tk" x="18.3" y="632.8" text-anchor="end">-2</text>
<text class="tk" x="18.3" y="664.9" text-anchor="end">-3</text>
<text class="xt" x="40.6" y="674.2" text-anchor="middle">1</text>
<text class="xt" x="75.9" y="674.2" text-anchor="middle">2</text>
<text class="xt" x="111.2" y="674.2" text-anchor="middle">3</text>
<text class="xt" x="146.5" y="674.2" text-anchor="middle">4</text>
<text class="xt" x="181.8" y="674.2" text-anchor="middle">5</text>
<text class="xt" x="217.1" y="674.2" text-anchor="middle">6</text>
<text class="xt" x="252.4" y="674.2" text-anchor="middle">7</text>
<text class="xt" x="287.7" y="674.2" text-anchor="middle">8</text>
<text class="xt" x="323" y="674.2" text-anchor="middle">9</text>
<text class="xt" x="358.3" y="674.2" text-anchor="middle">10</text>
<text class="st" x="204" y="683.9" text-anchor="middle">Step</text>
<text class="tt" x="91.2" y="495.8" textLength="22.1" lengthAdjust="spacingAndGlyphs">RF, RIS</text>
<line x1="124" y1="493.4" x2="135.8" y2="493.4" stroke="#4070e8" stroke-width="1.4"/>
<circle cx="130" cy="493.4" r="2.7" fill="#fff" stroke="#4070e8" stroke-width="1.3"/>
<text class="lg" x="135.8" y="496.1" textLength="30" lengthAdjust="spacingAndGlyphs">Response</text>
<line x1="165.8" y1="493.4" x2="180" y2="493.4" stroke="#1aad74" stroke-width="1.4"/>
<circle cx="173.3" cy="493.4" r="2.7" fill="#fff" stroke="#1aad74" stroke-width="1.3"/>
<text class="lg" x="180" y="496.1" textLength="37.3" lengthAdjust="spacingAndGlyphs">95% CI(LL)</text>
<line x1="217.3" y1="493.4" x2="230" y2="493.4" stroke="#f8c722" stroke-width="1.4"/>
<circle cx="224" cy="493.4" r="2.7" fill="#fff" stroke="#f8c722" stroke-width="1.3"/>
<text class="lg" x="230" y="496.1" textLength="38.3" lengthAdjust="spacingAndGlyphs">95% CI(UL)</text>
<polyline points="40.6,566.7 75.9,633.3 111.2,545 146.5,560 181.8,570.4 217.1,568.4 252.4,566.9 287.7,566.9 323,566.9 358.3,566.9" fill="none" stroke="#4070e8" stroke-width="1.6" stroke-linejoin="round"/>
<circle cx="40.6" cy="566.7" r="1.5" fill="#4070e8"/>
<circle cx="75.9" cy="633.3" r="1.5" fill="#4070e8"/>
<circle cx="111.2" cy="545" r="1.5" fill="#4070e8"/>
<circle cx="146.5" cy="560" r="1.5" fill="#4070e8"/>
<circle cx="181.8" cy="570.4" r="1.5" fill="#4070e8"/>
<circle cx="217.1" cy="568.4" r="1.5" fill="#4070e8"/>
<circle cx="252.4" cy="566.9" r="1.5" fill="#4070e8"/>
<circle cx="287.7" cy="566.9" r="1.5" fill="#4070e8"/>
<circle cx="323" cy="566.9" r="1.5" fill="#4070e8"/>
<circle cx="358.3" cy="566.9" r="1.5" fill="#4070e8"/>
<polyline points="40.6,566.7 75.9,648.2 111.2,559.2 146.5,565.8 181.8,574.4 217.1,570.2 252.4,567.3 287.7,566.9 323,566.9 358.3,566.9" fill="none" stroke="#1aad74" stroke-width="1.6" stroke-linejoin="round"/>
<circle cx="40.6" cy="566.7" r="1.5" fill="#1aad74"/>
<circle cx="75.9" cy="648.2" r="1.5" fill="#1aad74"/>
<circle cx="111.2" cy="559.2" r="1.5" fill="#1aad74"/>
<circle cx="146.5" cy="565.8" r="1.5" fill="#1aad74"/>
<circle cx="181.8" cy="574.4" r="1.5" fill="#1aad74"/>
<circle cx="217.1" cy="570.2" r="1.5" fill="#1aad74"/>
<circle cx="252.4" cy="567.3" r="1.5" fill="#1aad74"/>
<circle cx="287.7" cy="566.9" r="1.5" fill="#1aad74"/>
<circle cx="323" cy="566.9" r="1.5" fill="#1aad74"/>
<circle cx="358.3" cy="566.9" r="1.5" fill="#1aad74"/>
<polyline points="40.6,566.7 75.9,619.2 111.2,530.8 146.5,554.5 181.8,566.3 217.1,566.7 252.4,566.7 287.7,566.7 323,566.7 358.3,566.7" fill="none" stroke="#f8c722" stroke-width="1.6" stroke-linejoin="round"/>
<circle cx="40.6" cy="566.7" r="1.5" fill="#f8c722"/>
<circle cx="75.9" cy="619.2" r="1.5" fill="#f8c722"/>
<circle cx="111.2" cy="530.8" r="1.5" fill="#f8c722"/>
<circle cx="146.5" cy="554.5" r="1.5" fill="#f8c722"/>
<circle cx="181.8" cy="566.3" r="1.5" fill="#f8c722"/>
<circle cx="217.1" cy="566.7" r="1.5" fill="#f8c722"/>
<circle cx="252.4" cy="566.7" r="1.5" fill="#f8c722"/>
<circle cx="287.7" cy="566.7" r="1.5" fill="#f8c722"/>
<circle cx="323" cy="566.7" r="1.5" fill="#f8c722"/>
<circle cx="358.3" cy="566.7" r="1.5" fill="#f8c722"/>
</g>
<g>
<line x1="409.2" y1="497.2" x2="776.5" y2="497.2" stroke="#efefef" stroke-width="0.8"/>
<line x1="409.2" y1="521.3" x2="776.5" y2="521.3" stroke="#efefef" stroke-width="0.8"/>
<line x1="409.2" y1="545.3" x2="776.5" y2="545.3" stroke="#efefef" stroke-width="0.8"/>
<line x1="409.2" y1="569.4" x2="776.5" y2="569.4" stroke="#efefef" stroke-width="0.8"/>
<line x1="409.2" y1="593.3" x2="776.5" y2="593.3" stroke="#efefef" stroke-width="0.8"/>
<line x1="409.2" y1="617.3" x2="776.5" y2="617.3" stroke="#efefef" stroke-width="0.8"/>
<line x1="409.2" y1="641.7" x2="776.5" y2="641.7" stroke="#efefef" stroke-width="0.8"/>
<line x1="409.2" y1="666" x2="776.5" y2="666" stroke="#efefef" stroke-width="0.8"/>
<text class="tk" x="404.7" y="498.7" text-anchor="end">5</text>
<text class="tk" x="404.7" y="522.8" text-anchor="end">4</text>
<text class="tk" x="404.7" y="546.8" text-anchor="end">3</text>
<text class="tk" x="404.7" y="570.9" text-anchor="end">2</text>
<text class="tk" x="404.7" y="594.8" text-anchor="end">1</text>
<text class="tk" x="404.7" y="618.8" text-anchor="end">0</text>
<text class="tk" x="404.7" y="643.2" text-anchor="end">-1</text>
<text class="tk" x="404.7" y="667.5" text-anchor="end">-2</text>
<text class="xt" x="427.2" y="676.7" text-anchor="middle">1</text>
<text class="xt" x="464" y="676.7" text-anchor="middle">2</text>
<text class="xt" x="500.8" y="676.7" text-anchor="middle">3</text>
<text class="xt" x="537.6" y="676.7" text-anchor="middle">4</text>
<text class="xt" x="574.4" y="676.7" text-anchor="middle">5</text>
<text class="xt" x="611.2" y="676.7" text-anchor="middle">6</text>
<text class="xt" x="648" y="676.7" text-anchor="middle">7</text>
<text class="xt" x="684.8" y="676.7" text-anchor="middle">8</text>
<text class="xt" x="721.6" y="676.7" text-anchor="middle">9</text>
<text class="xt" x="758.4" y="676.7" text-anchor="middle">10</text>
<text class="st" x="593.2" y="684.6" text-anchor="middle">Step</text>
<text class="tt" x="478.3" y="489.7" textLength="22.5" lengthAdjust="spacingAndGlyphs">RS, RIS</text>
<line x1="509.7" y1="487.3" x2="521.7" y2="487.3" stroke="#4070e8" stroke-width="1.4"/>
<circle cx="515.3" cy="487.3" r="2.7" fill="#fff" stroke="#4070e8" stroke-width="1.3"/>
<text class="lg" x="521.7" y="490" textLength="31.8" lengthAdjust="spacingAndGlyphs">Response</text>
<line x1="553.5" y1="487.3" x2="567.3" y2="487.3" stroke="#1aad74" stroke-width="1.4"/>
<circle cx="561.2" cy="487.3" r="2.7" fill="#fff" stroke="#1aad74" stroke-width="1.3"/>
<text class="lg" x="567.3" y="490" textLength="38.7" lengthAdjust="spacingAndGlyphs">95% CI(LL)</text>
<line x1="606" y1="487.3" x2="619.3" y2="487.3" stroke="#f8c722" stroke-width="1.4"/>
<circle cx="612.7" cy="487.3" r="2.7" fill="#fff" stroke="#f8c722" stroke-width="1.3"/>
<text class="lg" x="619.3" y="490" textLength="40" lengthAdjust="spacingAndGlyphs">95% CI(UL)</text>
<polyline points="427.2,617.3 464,538.3 500.8,631.8 537.6,635.3 574.4,622.5 611.2,618.4 648,618.6 684.8,618 721.6,618.4 758.4,618" fill="none" stroke="#4070e8" stroke-width="1.6" stroke-linejoin="round"/>
<circle cx="427.2" cy="617.3" r="1.5" fill="#4070e8"/>
<circle cx="464" cy="538.3" r="1.5" fill="#4070e8"/>
<circle cx="500.8" cy="631.8" r="1.5" fill="#4070e8"/>
<circle cx="537.6" cy="635.3" r="1.5" fill="#4070e8"/>
<circle cx="574.4" cy="622.5" r="1.5" fill="#4070e8"/>
<circle cx="611.2" cy="618.4" r="1.5" fill="#4070e8"/>
<circle cx="648" cy="618.6" r="1.5" fill="#4070e8"/>
<circle cx="684.8" cy="618" r="1.5" fill="#4070e8"/>
<circle cx="721.6" cy="618.4" r="1.5" fill="#4070e8"/>
<circle cx="758.4" cy="618" r="1.5" fill="#4070e8"/>
<polyline points="427.2,617.3 464,570 500.8,658.8 537.6,652.7 574.4,628.4 611.2,621.6 648,621.4 684.8,620 721.6,619 758.4,618" fill="none" stroke="#1aad74" stroke-width="1.6" stroke-linejoin="round"/>
<circle cx="427.2" cy="617.3" r="1.5" fill="#1aad74"/>
<circle cx="464" cy="570" r="1.5" fill="#1aad74"/>
<circle cx="500.8" cy="658.8" r="1.5" fill="#1aad74"/>
<circle cx="537.6" cy="652.7" r="1.5" fill="#1aad74"/>
<circle cx="574.4" cy="628.4" r="1.5" fill="#1aad74"/>
<circle cx="611.2" cy="621.6" r="1.5" fill="#1aad74"/>
<circle cx="648" cy="621.4" r="1.5" fill="#1aad74"/>
<circle cx="684.8" cy="620" r="1.5" fill="#1aad74"/>
<circle cx="721.6" cy="619" r="1.5" fill="#1aad74"/>
<circle cx="758.4" cy="618" r="1.5" fill="#1aad74"/>
<polyline points="427.2,617.3 464,507 500.8,605 537.6,617.3 574.4,617 611.2,615.6 648,616.4 684.8,617 721.6,617.4 758.4,617.6" fill="none" stroke="#f8c722" stroke-width="1.6" stroke-linejoin="round"/>
<circle cx="427.2" cy="617.3" r="1.5" fill="#f8c722"/>
<circle cx="464" cy="507" r="1.5" fill="#f8c722"/>
<circle cx="500.8" cy="605" r="1.5" fill="#f8c722"/>
<circle cx="537.6" cy="617.3" r="1.5" fill="#f8c722"/>
<circle cx="574.4" cy="617" r="1.5" fill="#f8c722"/>
<circle cx="611.2" cy="615.6" r="1.5" fill="#f8c722"/>
<circle cx="648" cy="616.4" r="1.5" fill="#f8c722"/>
<circle cx="684.8" cy="617" r="1.5" fill="#f8c722"/>
<circle cx="721.6" cy="617.4" r="1.5" fill="#f8c722"/>
<circle cx="758.4" cy="617.6" r="1.5" fill="#f8c722"/>
</g>
<g>
<line x1="849.3" y1="506.4" x2="1198.5" y2="506.4" stroke="#efefef" stroke-width="0.8"/>
<line x1="849.3" y1="533.5" x2="1198.5" y2="533.5" stroke="#efefef" stroke-width="0.8"/>
<line x1="849.3" y1="560.5" x2="1198.5" y2="560.5" stroke="#efefef" stroke-width="0.8"/>
<line x1="849.3" y1="587.5" x2="1198.5" y2="587.5" stroke="#efefef" stroke-width="0.8"/>
<line x1="849.3" y1="614.5" x2="1198.5" y2="614.5" stroke="#efefef" stroke-width="0.8"/>
<line x1="849.3" y1="641.5" x2="1198.5" y2="641.5" stroke="#efefef" stroke-width="0.8"/>
<line x1="849.3" y1="668.4" x2="1198.5" y2="668.4" stroke="#efefef" stroke-width="0.8"/>
<text class="tk" x="845" y="507.9" text-anchor="end">1</text>
<text class="tk" x="845" y="535" text-anchor="end">0.8</text>
<text class="tk" x="845" y="562" text-anchor="end">0.6</text>
<text class="tk" x="845" y="589" text-anchor="end">0.4</text>
<text class="tk" x="845" y="616" text-anchor="end">0.2</text>
<text class="tk" x="845" y="643" text-anchor="end">0</text>
<text class="tk" x="845" y="669.9" text-anchor="end">-0.2</text>
<text class="xt" x="865.9" y="679" text-anchor="middle">1</text>
<text class="xt" x="901" y="679" text-anchor="middle">2</text>
<text class="xt" x="936.1" y="679" text-anchor="middle">3</text>
<text class="xt" x="971.2" y="679" text-anchor="middle">4</text>
<text class="xt" x="1006.3" y="679" text-anchor="middle">5</text>
<text class="xt" x="1041.4" y="679" text-anchor="middle">6</text>
<text class="xt" x="1076.5" y="679" text-anchor="middle">7</text>
<text class="xt" x="1111.6" y="679" text-anchor="middle">8</text>
<text class="xt" x="1146.7" y="679" text-anchor="middle">9</text>
<text class="xt" x="1181.8" y="679" text-anchor="middle">10</text>
<text class="st" x="1021.6" y="688.4" text-anchor="middle">Step</text>
<text class="tt" x="910" y="498.4" textLength="24.7" lengthAdjust="spacingAndGlyphs">RIS, RIS</text>
<line x1="940.3" y1="496" x2="952.5" y2="496" stroke="#4070e8" stroke-width="1.4"/>
<circle cx="946.2" cy="496" r="2.7" fill="#fff" stroke="#4070e8" stroke-width="1.3"/>
<text class="lg" x="952.5" y="498.7" textLength="30.3" lengthAdjust="spacingAndGlyphs">Response</text>
<line x1="982.8" y1="496" x2="997.3" y2="496" stroke="#1aad74" stroke-width="1.4"/>
<circle cx="990.3" cy="496" r="2.7" fill="#fff" stroke="#1aad74" stroke-width="1.3"/>
<text class="lg" x="997.3" y="498.7" textLength="37.7" lengthAdjust="spacingAndGlyphs">95% CI(LL)</text>
<line x1="1035" y1="496" x2="1047.3" y2="496" stroke="#f8c722" stroke-width="1.4"/>
<circle cx="1040.7" cy="496" r="2.7" fill="#fff" stroke="#f8c722" stroke-width="1.3"/>
<text class="lg" x="1047.3" y="498.7" textLength="38.7" lengthAdjust="spacingAndGlyphs">95% CI(UL)</text>
<polyline points="865.9,506.4 901,608.2 936.1,639.5 971.2,645.3 1006.3,641.8 1041.4,641 1076.5,641.5 1111.6,641.5 1146.7,641.5 1181.8,641.5" fill="none" stroke="#4070e8" stroke-width="1.6" stroke-linejoin="round"/>
<circle cx="865.9" cy="506.4" r="1.5" fill="#4070e8"/>
<circle cx="901" cy="608.2" r="1.5" fill="#4070e8"/>
<circle cx="936.1" cy="639.5" r="1.5" fill="#4070e8"/>
<circle cx="971.2" cy="645.3" r="1.5" fill="#4070e8"/>
<circle cx="1006.3" cy="641.8" r="1.5" fill="#4070e8"/>
<circle cx="1041.4" cy="641" r="1.5" fill="#4070e8"/>
<circle cx="1076.5" cy="641.5" r="1.5" fill="#4070e8"/>
<circle cx="1111.6" cy="641.5" r="1.5" fill="#4070e8"/>
<circle cx="1146.7" cy="641.5" r="1.5" fill="#4070e8"/>
<circle cx="1181.8" cy="641.5" r="1.5" fill="#4070e8"/>
<polyline points="865.9,506.4 901,619.6 936.1,651.1 971.2,650.9 1006.3,643.2 1041.4,641.9 1076.5,641.6 1111.6,641.5 1146.7,641.5 1181.8,641.5" fill="none" stroke="#1aad74" stroke-width="1.6" stroke-linejoin="round"/>
<circle cx="865.9" cy="506.4" r="1.5" fill="#1aad74"/>
<circle cx="901" cy="619.6" r="1.5" fill="#1aad74"/>
<circle cx="936.1" cy="651.1" r="1.5" fill="#1aad74"/>
<circle cx="971.2" cy="650.9" r="1.5" fill="#1aad74"/>
<circle cx="1006.3" cy="643.2" r="1.5" fill="#1aad74"/>
<circle cx="1041.4" cy="641.9" r="1.5" fill="#1aad74"/>
<circle cx="1076.5" cy="641.6" r="1.5" fill="#1aad74"/>
<circle cx="1111.6" cy="641.5" r="1.5" fill="#1aad74"/>
<circle cx="1146.7" cy="641.5" r="1.5" fill="#1aad74"/>
<circle cx="1181.8" cy="641.5" r="1.5" fill="#1aad74"/>
<polyline points="865.9,506.4 901,597.1 936.1,627.8 971.2,639.5 1006.3,640.5 1041.4,640 1076.5,641.2 1111.6,641.4 1146.7,641.5 1181.8,641.5" fill="none" stroke="#f8c722" stroke-width="1.6" stroke-linejoin="round"/>
<circle cx="865.9" cy="506.4" r="1.5" fill="#f8c722"/>
<circle cx="901" cy="597.1" r="1.5" fill="#f8c722"/>
<circle cx="936.1" cy="627.8" r="1.5" fill="#f8c722"/>
<circle cx="971.2" cy="639.5" r="1.5" fill="#f8c722"/>
<circle cx="1006.3" cy="640.5" r="1.5" fill="#f8c722"/>
<circle cx="1041.4" cy="640" r="1.5" fill="#f8c722"/>
<circle cx="1076.5" cy="641.2" r="1.5" fill="#f8c722"/>
<circle cx="1111.6" cy="641.4" r="1.5" fill="#f8c722"/>
<circle cx="1146.7" cy="641.5" r="1.5" fill="#f8c722"/>
<circle cx="1181.8" cy="641.5" r="1.5" fill="#f8c722"/>
</g>
</g></svg>
</body></html>
